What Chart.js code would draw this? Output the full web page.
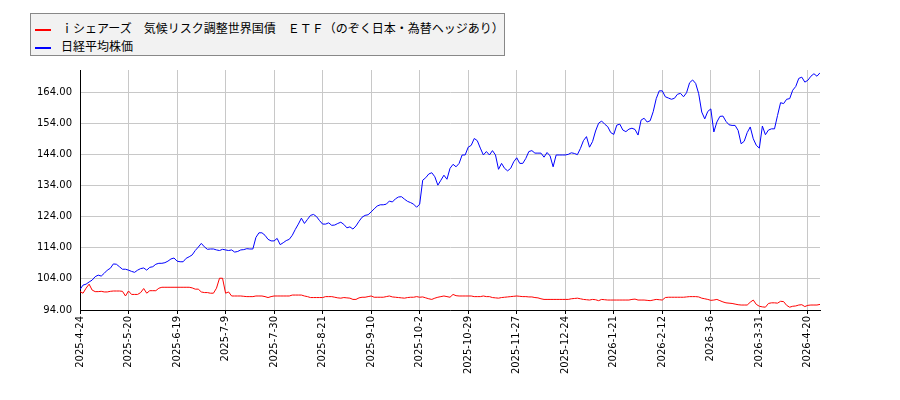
<!DOCTYPE html>
<html lang="ja">
<head>
<meta charset="utf-8">
<title>iシェアーズ 気候リスク調整世界国債 ETF と 日経平均株価</title>
<script src="https://cdn.jsdelivr.net/npm/chart.js@4"></script>
<style>
  html, body { margin: 0; padding: 0; background: #fff; }
  #wrap { position: relative; width: 900px; height: 400px; }
  #legend {
    position: absolute; left: 30px; top: 13px; width: 473px; height: 41px;
    background: #f2f2f2; border: 1px solid #888;
    font-family: "Noto Sans CJK JP", sans-serif; font-size: 12px; color: #000;
  }
  .item { position: absolute; left: 4px; height: 18px; line-height: 18px; white-space: nowrap; }
  .item i { display: inline-block; width: 16px; height: 2px; vertical-align: middle; margin-right: 10px; }
</style>
</head>
<body>
<div id="wrap">
  <canvas id="grafica" width="900" height="400"></canvas>
  <div id="legend"></div>
</div>
<script>
// 凡例
const nombreEtf = "ｉシェアーズ　気候リスク調整世界国債　ＥＴＦ（のぞく日本・為替ヘッジあり）";
const nombreNikkei = "日経平均株価";

// 目盛りラベル（16営業日ごと）
const xTickLabels = [
  "2025-4-24", "2025-5-20", "2025-6-19", "2025-7-9", "2025-7-30", "2025-8-21",
  "2025-9-10", "2025-10-2", "2025-10-29", "2025-11-27", "2025-12-24", "2026-1-21",
  "2026-2-12", "2026-3-6", "2026-3-31", "2026-4-20"
];
const tickEvery = 16;
const yTicks = [94, 104, 114, 124, 134, 144, 154, 164];

// ETF（赤）
const etf = [
  99.9, 99.4, 101.0, 102.3, 100.4, 99.9, 99.9, 100.0, 99.8, 99.8,
  100.0, 100.1, 100.1, 100.1, 100.0, 98.5, 100.1, 99.0, 99.0, 99.0,
  99.6, 100.9, 99.4, 100.2, 100.2, 100.2, 101.0, 101.3, 101.3, 101.3,
  101.3, 101.3, 101.3, 101.3, 101.3, 101.3, 101.3, 101.1, 100.7, 100.7,
  99.8, 99.6, 99.6, 99.4, 99.4, 101.0, 104.2, 104.2, 99.4, 99.8,
  98.5, 98.5, 98.5, 98.5, 98.4, 98.3, 98.3, 98.3, 98.5, 98.5,
  98.5, 98.3, 98.0, 98.3, 98.5, 98.5, 98.5, 98.5, 98.5, 98.5,
  98.8, 98.8, 98.8, 98.8, 98.5, 98.3, 98.0, 98.0, 98.0, 98.0,
  98.0, 98.3, 98.3, 98.3, 98.1, 97.9, 97.8, 98.0, 97.9, 97.8,
  97.4, 97.4, 97.9, 98.1, 98.1, 98.3, 98.5, 98.1, 98.1, 98.1,
  98.1, 98.3, 98.5, 98.2, 98.1, 98.0, 97.9, 97.8, 98.0, 98.1,
  98.1, 98.3, 98.1, 98.2, 97.9, 97.6, 97.4, 97.8, 98.1, 98.3,
  98.5, 98.3, 98.1, 99.0, 98.6, 98.5, 98.5, 98.5, 98.5, 98.5,
  98.3, 98.3, 98.3, 98.5, 98.3, 98.3, 98.0, 97.9, 97.8, 98.0,
  98.1, 98.2, 98.3, 98.4, 98.5, 98.4, 98.3, 98.3, 98.2, 98.2,
  98.0, 97.9, 97.6, 97.4, 97.4, 97.4, 97.4, 97.4, 97.4, 97.4,
  97.4, 97.4, 97.6, 97.7, 97.8, 97.6, 97.4, 97.3, 97.2, 97.4,
  97.3, 97.0, 97.4, 97.3, 97.2, 97.2, 97.2, 97.2, 97.2, 97.2,
  97.2, 97.2, 97.4, 97.5, 97.2, 97.2, 97.2, 97.1, 97.0, 97.2,
  97.4, 97.3, 97.2, 98.0, 98.1, 98.1, 98.1, 98.1, 98.1, 98.1,
  98.2, 98.3, 98.3, 98.3, 98.2, 97.8, 97.6, 97.4, 97.1, 97.2,
  97.4, 97.0, 96.6, 96.3, 96.2, 96.1, 95.9, 95.7, 95.6, 95.6,
  95.6, 96.5, 97.2, 95.8, 95.2, 95.0, 94.9, 96.1, 96.3, 96.3,
  96.2, 96.8, 96.7, 95.5, 94.9, 95.2, 95.3, 95.6, 95.7, 95.1,
  95.5, 95.6, 95.6, 95.6, 95.8
];

// 日経平均（青）
const nikkei = [
  100.6, 102.0, 102.3, 103.0, 103.6, 104.7, 105.2, 104.9, 105.8, 106.8,
  107.4, 108.8, 108.7, 107.9, 107.1, 107.1, 106.8, 106.4, 106.1, 106.8,
  107.3, 107.5, 106.8, 107.7, 107.9, 108.7, 109.0, 109.0, 109.2, 109.7,
  110.4, 110.7, 109.7, 109.5, 109.5, 110.6, 111.1, 111.7, 113.1, 114.2,
  115.4, 114.3, 113.5, 113.6, 113.6, 113.3, 113.1, 113.5, 113.3, 113.1,
  113.3, 112.6, 112.8, 113.3, 113.4, 113.7, 113.6, 113.6, 117.3, 118.8,
  118.8, 118.0, 116.7, 116.2, 116.2, 117.0, 115.0, 115.6, 116.3, 116.7,
  118.0, 119.9, 121.6, 123.5, 121.8, 123.1, 124.4, 124.7, 124.0, 122.7,
  121.6, 121.6, 122.0, 121.2, 121.3, 121.8, 122.2, 121.5, 120.4, 120.7,
  120.0, 121.0, 122.5, 123.8, 124.4, 124.6, 125.5, 126.5, 127.4, 127.8,
  127.8, 128.0, 129.0, 128.7, 129.7, 130.3, 130.4, 129.6, 128.9, 128.5,
  128.0, 127.0, 128.0, 135.7, 136.5, 137.7, 138.1, 136.8, 134.1, 135.7,
  137.3, 136.0, 139.5, 140.8, 140.0, 141.1, 143.8, 143.8, 146.3, 146.9,
  149.1, 148.4, 146.0, 143.8, 144.9, 143.8, 145.2, 143.8, 139.2, 141.1,
  139.5, 138.7, 139.5, 141.6, 142.9, 141.1, 141.1, 142.7, 144.9, 145.2,
  144.4, 144.4, 144.4, 143.1, 144.6, 143.5, 140.0, 143.8, 143.8, 143.8,
  143.8, 144.0, 144.5, 144.3, 143.9, 145.9, 148.4, 149.7, 146.3, 148.1,
  151.5, 154.0, 154.7, 153.7, 152.9, 151.0, 150.4, 153.4, 153.7, 151.8,
  151.3, 152.1, 152.4, 152.0, 150.2, 155.0, 155.6, 154.4, 154.8, 157.7,
  161.9, 164.4, 164.4, 162.5, 162.1, 161.7, 162.0, 163.3, 163.6, 162.5,
  163.8, 167.0, 167.9, 166.8, 163.5, 157.6, 155.4, 157.8, 158.6, 151.2,
  154.4, 156.2, 156.3, 154.6, 153.5, 153.3, 153.3, 151.7, 147.4, 148.2,
  151.0, 152.8, 149.0, 146.9, 146.0, 153.1, 150.3, 151.8, 152.2, 152.2,
  156.5, 160.6, 160.3, 161.7, 161.9, 164.6, 165.8, 168.4, 168.8, 167.2,
  167.8, 169.1, 169.9, 169.1, 170.2
];

const fuente = { family: "DejaVu Sans", size: 10 };

const datasets = [
  { label: nombreEtf, data: etf.map((v, i) => ({ x: i, y: v })), borderColor: "#ff0000" },
  { label: nombreNikkei, data: nikkei.map((v, i) => ({ x: i, y: v })), borderColor: "#0000ff" }
];

const chart = new Chart(document.getElementById("grafica"), {
  type: "line",
  data: { datasets: datasets.map(d => Object.assign(d, { borderWidth: 1, pointRadius: 0, tension: 0, fill: false })) },
  options: {
    responsive: false,
    animation: false,
    layout: { padding: { top: 70, right: 80, left: 0, bottom: 0 } },
    plugins: { legend: { display: false }, tooltip: { enabled: false } },
    scales: {
      x: {
        type: "linear",
        min: 0,
        max: nikkei.length - 1,
        afterFit: s => { s.height = 90; },
        afterBuildTicks: s => { s.ticks = xTickLabels.map((_, k) => ({ value: k * tickEvery })); },
        ticks: {
          autoSkip: false,
          maxRotation: 90,
          minRotation: 90,
          padding: 2,
          color: "#000",
          font: fuente,
          callback: v => xTickLabels[v / tickEvery]
        },
        grid: { color: "#c8c8c8", tickColor: "#000", tickLength: 4, lineWidth: 1 },
        border: { color: "#000", width: 1 }
      },
      y: {
        min: 94,
        max: 171.1,
        afterFit: s => { s.width = 80; },
        afterBuildTicks: s => { s.ticks = yTicks.map(v => ({ value: v })); },
        ticks: { padding: 8, color: "#000", font: fuente, callback: v => v.toFixed(2) },
        grid: { color: "#c8c8c8", drawTicks: false, lineWidth: 1 },
        border: { color: "#000", width: 1 }
      }
    }
  }
});

// 凡例を作る
const leyenda = document.getElementById("legend");
chart.data.datasets.forEach((d, i) => {
  const div = document.createElement("div");
  div.className = "item";
  div.style.top = (5 + i * 18) + "px";
  div.innerHTML = `<i style="background:${d.borderColor}"></i>${d.label}`;
  leyenda.appendChild(div);
});
</script>
</body>
</html>
